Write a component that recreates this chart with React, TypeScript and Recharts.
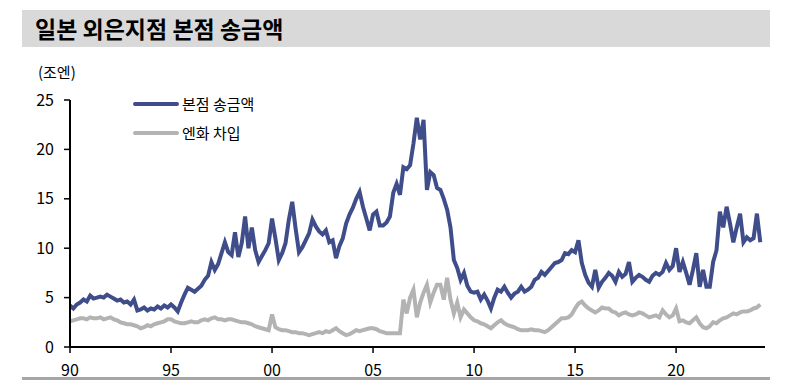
import * as React from 'react';
import { LineChart, Line, XAxis, YAxis, Legend } from 'recharts';

// monthly-ish readings, 6 points a year, Jan 1990 .. Mar 2024 (조엔)
const START_YEAR = 1990;
const PER_YEAR = 6;

const remittance = [
    4.2, 3.9, 4.3, 4.5, 4.8, 4.6,
    5.2, 4.9, 5.0, 5.1, 5.0, 5.3,
    5.1, 4.9, 4.7, 4.8, 4.5, 4.6,
    4.3, 4.8, 3.7, 3.8, 4.0, 3.7,
    3.9, 3.8, 4.1, 3.9, 4.2, 4.0,
    4.3, 4.0, 3.6, 4.5, 5.3, 6.0,
    5.8, 5.6, 5.9, 6.2, 6.8, 7.2,
    8.6, 7.8, 8.4, 9.5, 10.6, 9.6,
    9.3, 11.6, 9.1, 10.5, 13.2, 10.0,
    12.1, 9.8, 8.6, 9.2, 9.8, 10.5,
    13.0, 11.0, 8.8, 9.5, 10.5, 12.9,
    14.7, 12.0, 9.6, 10.1, 10.8, 11.5,
    12.9, 12.2, 11.7, 11.4, 11.8, 10.6,
    10.8, 9.0, 10.2, 11.0, 12.5, 13.4,
    14.1, 15.0, 15.7, 14.2, 13.0, 11.8,
    13.4, 13.7, 12.3, 12.3, 12.6, 13.2,
    15.6, 16.5, 15.4, 18.2, 18.0, 18.4,
    20.6, 23.2, 21.0, 23.0, 15.9, 17.7,
    17.4, 16.1, 15.9, 15.0, 13.9, 12.1,
    8.8, 8.0, 6.8, 7.5, 6.2, 5.6,
    5.5, 5.6, 4.8, 5.3, 4.7, 3.9,
    5.0, 5.8, 5.6, 6.1, 5.5, 5.0,
    5.4, 5.6, 6.1, 5.6, 5.8, 6.1,
    6.8, 7.0, 7.6, 7.3, 7.7, 8.1,
    8.5, 8.6, 8.8, 9.5, 9.4, 9.8,
    9.6, 10.8, 8.5, 7.3, 6.5, 6.1,
    7.8, 6.0, 6.6, 7.0, 7.5, 7.2,
    6.6, 7.6, 7.1, 7.4, 8.6, 6.6,
    7.0, 7.3, 7.1, 6.8, 6.6, 7.2,
    7.5, 7.3, 7.6, 8.5, 7.8, 8.2,
    10.0, 7.6, 8.6, 7.5, 6.3, 7.8,
    9.5, 6.1, 7.8, 6.1, 6.1, 8.6,
    9.8, 13.7, 12.1, 14.2, 12.5, 10.6,
    12.1, 13.5, 10.6, 11.1, 10.8, 11.0,
    13.5, 10.6,
];

const yenBorrowing = [
    2.6, 2.7, 2.8, 2.9, 2.9, 2.8,
    3.0, 2.9, 2.9, 3.0, 2.8, 2.9,
    3.0, 2.8, 2.7, 2.5, 2.4, 2.3,
    2.3, 2.2, 2.1, 1.9, 2.0, 2.2,
    2.1, 2.3, 2.4, 2.5, 2.6, 2.8,
    2.8, 2.6, 2.5, 2.4, 2.4, 2.5,
    2.6, 2.5, 2.5, 2.7, 2.8, 2.7,
    2.9, 3.0, 2.8, 2.8, 2.7, 2.8,
    2.8, 2.7, 2.6, 2.5, 2.5, 2.4,
    2.3, 2.1, 2.0, 1.9, 1.8, 1.7,
    3.3, 2.0, 1.8, 1.7, 1.7, 1.6,
    1.5, 1.5, 1.4, 1.4, 1.3, 1.2,
    1.3, 1.4, 1.5, 1.4, 1.6, 1.5,
    1.7, 1.9, 1.6, 1.4, 1.2, 1.3,
    1.5, 1.7, 1.6, 1.7, 1.8, 1.9,
    1.9, 1.8, 1.6, 1.5, 1.4, 1.4,
    1.4, 1.4, 1.4, 4.8, 3.4, 5.0,
    5.8, 3.0, 4.5, 5.5, 6.3, 4.5,
    5.5, 6.3, 6.3, 4.8, 7.0, 4.8,
    3.4, 4.5, 3.0, 3.8, 3.4, 3.0,
    2.7, 2.6, 2.4, 2.3, 2.1, 1.9,
    2.2, 2.5, 2.7, 2.4, 2.2, 2.1,
    2.0, 1.8, 1.7, 1.7, 1.7, 1.8,
    1.7, 1.7, 1.6, 1.5, 1.7, 2.0,
    2.3, 2.6, 2.9, 2.9, 3.0, 3.3,
    3.9, 4.4, 4.6, 4.2, 3.9, 3.7,
    3.5, 3.7, 4.0, 3.9, 3.9, 3.6,
    3.5, 3.2, 3.4, 3.5, 3.3, 3.2,
    3.3, 3.5, 3.4, 3.2, 3.0, 3.1,
    3.2, 3.0, 3.7, 3.3, 3.0, 3.2,
    3.9, 2.6, 2.7, 2.5, 2.4, 2.7,
    3.0, 2.4, 2.0, 1.9, 2.1, 2.5,
    2.4, 2.7, 2.9, 3.0, 3.2, 3.4,
    3.3, 3.5, 3.6, 3.6, 3.7, 3.9,
    4.0, 4.3,
];

const xTicks = [1990, 1995, 2000, 2005, 2010, 2015, 2020];
const yTicks = [0, 5, 10, 15, 20, 25];

const seriesNames = ['본점 송금액', '엔화 차입'];

const BLUE = '#3F4D8A';
const GRAY = '#B3B3B3';
const FONT = '"Noto Sans CJK KR", "Noto Sans", sans-serif';

const data = remittance.map((v, i) => ({
    t: START_YEAR + i / PER_YEAR,
    remit: v,
    yen: yenBorrowing[i],
}));

const legendItems = [
    { name: seriesNames[0], color: BLUE },
    { name: seriesNames[1], color: GRAY },
];

function LegendBox() {
    return (
        <div>
            {legendItems.map(item => (
                <div key={item.name} style={{ display: 'flex', alignItems: 'center', height: 29 }}>
                    <div style={{ width: 46, height: 4, background: item.color, borderRadius: 2 }} />
                    <span style={{ marginLeft: 3, fontSize: 15, color: '#000', fontFamily: FONT }}>{item.name}</span>
                </div>
            ))}
        </div>
    );
}

export default function App() {
    const tickStyle = { fill: '#000', fontSize: 16, fontFamily: FONT };
    return (
        <div style={{ position: 'absolute', left: 0, top: 0, width: 788, height: 382, background: '#fff', fontFamily: FONT }}>
            <div style={{
                position: 'absolute', left: 22, top: 10, width: 748, height: 37,
                background: '#D9D9D9',
            }}>
                <span style={{
                    position: 'absolute', left: 13, top: 0, lineHeight: '37px',
                    fontSize: 23, fontWeight: 700, color: '#000',
                }}>일본 외은지점 본점 송금액</span>
            </div>
            <div style={{ position: 'absolute', left: 38, top: 61, fontSize: 15, color: '#000' }}>(조엔)</div>

            <div style={{ position: 'absolute', left: 0, top: 0 }}>
                <LineChart width={788} height={382} data={data}
                    margin={{ top: 100, right: 23, left: 0, bottom: 0 }}>
                    <XAxis dataKey="t" type="number" domain={[1990, 2024.4]} ticks={xTicks}
                        tickFormatter={(y: number) => String(y).slice(2)}
                        axisLine={{ stroke: '#000', strokeWidth: 2 }}
                        tickLine={{ stroke: '#000', strokeWidth: 1.5 }}
                        tickSize={6} tickMargin={12} height={35}
                        tick={tickStyle} allowDataOverflow />
                    <YAxis domain={[0, 25]} ticks={yTicks} width={70}
                        axisLine={{ stroke: '#000', strokeWidth: 2 }}
                        tickLine={{ stroke: '#000', strokeWidth: 1.5 }}
                        tickSize={6} tickMargin={10}
                        tick={tickStyle} />
                    <Legend content={() => <LegendBox />} layout="vertical"
                        align="center" verticalAlign="middle"
                        wrapperStyle={{ position: 'absolute', left: 133, top: 89, width: 'auto' }} />
                    <Line isAnimationActive={false} dataKey="yen" name={seriesNames[1]}
                        stroke={GRAY} strokeWidth={4} dot={false} type="linear" />
                    <Line isAnimationActive={false} dataKey="remit" name={seriesNames[0]}
                        stroke={BLUE} strokeWidth={4} dot={false} type="linear" />
                </LineChart>
            </div>

            <div style={{ position: 'absolute', left: 22, top: 377, width: 748, height: 3, background: '#A6A6A6' }} />
        </div>
    );
}
